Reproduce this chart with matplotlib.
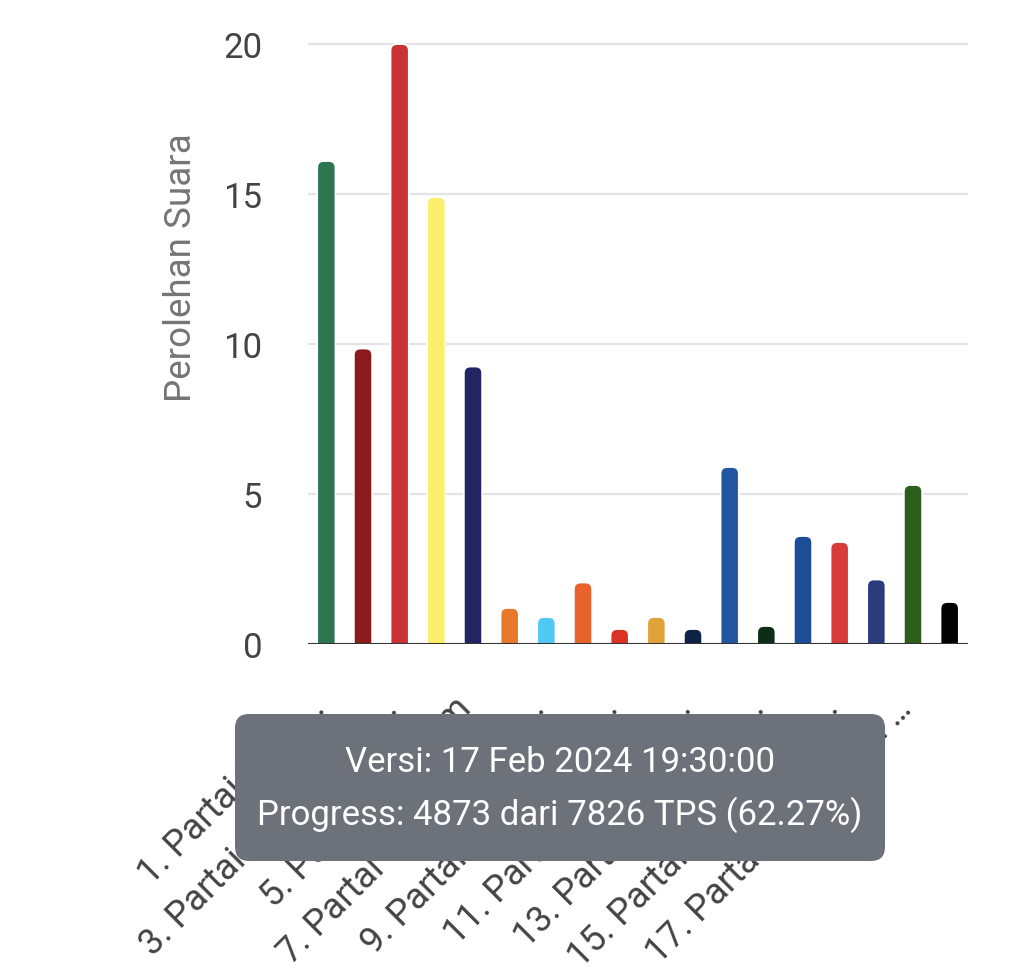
import matplotlib
matplotlib.use('Agg')
import matplotlib.pyplot as plt
from matplotlib.patches import FancyBboxPatch
from matplotlib.transforms import IdentityTransform

# ---- data ----
parties = [
    "1. Partai Kebangkitan Bangsa", "2. Partai Gerakan Indonesia Raya",
    "3. Partai Demokrasi Indonesia Perjuangan", "4. Partai Golongan Karya",
    "5. Partai NasDem", "6. Partai Buruh", "7. Partai Gelombang Rakyat Indonesia",
    "8. Partai Keadilan Sejahtera", "9. Partai Kebangkitan Nusantara",
    "10. Partai Hati Nurani Rakyat", "11. Partai Garda Republik Indonesia",
    "12. Partai Amanat Nasional", "13. Partai Bulan Bintang", "14. Partai Demokrat",
    "15. Partai Solidaritas Indonesia", "16. Partai Perindo",
    "17. Partai Persatuan Pembangunan", "24. Partai Ummat",
]
votes = [16.1, 9.85, 20.0, 14.9, 9.25, 1.2, 0.9, 2.05, 0.5, 0.9,
         0.5, 5.9, 0.6, 3.6, 3.4, 2.15, 5.3, 1.4]
colors = ["#2e7552", "#8b1a1a", "#c93333", "#fbef6c", "#232562", "#e8792b",
          "#52c8f5", "#e8632b", "#dc3223", "#e0a23a", "#0c2347", "#2356a0",
          "#0e2d18", "#1e4d98", "#d93a3a", "#2b3c7c", "#2a5e1a", "#000000"]
tick_positions = [0, 2, 4, 6, 8, 10, 12, 14, 16]
tick_labels = ["1. Partai Keba\u2026", "3. Partai Demokrasi \u2026", "5. Partai NasDem",
               "7. Partai Gelombang \u2026", "9. Partai Kebangkita\u2026",
               "11. Partai Garda Re\u2026", "13. Partai Bulan Bin\u2026",
               "15. Partai Solidaritas \u2026", "17. Partai Persatuan \u2026"]
y_ticks = [0, 5, 10, 15, 20]
y_title = "Perolehan Suara"
tooltip_lines = ["Versi: 17 Feb 2024 19:30:00",
                 "Progress: 4873 dari 7826 TPS (62.27%)"]

plt.rcParams['font.family'] = ['Roboto', 'DejaVu Sans']

W, H = 1024, 978
fig = plt.figure(figsize=(W / 100, H / 100), dpi=100)
fig.patch.set_facecolor('white')

ymax = 20.3
ax_left, ax_right, ax_base = 308, 968, 645
ax_top = ax_base - 30 * ymax
ax = fig.add_axes([ax_left / W, 1 - ax_base / H, (ax_right - ax_left) / W,
                   (ax_base - ax_top) / H])
ax.set_xlim(-0.5, len(votes) - 0.5)
ax.set_ylim(0, ymax)
for s in ax.spines.values():
    s.set_visible(False)

ax.set_yticks(y_ticks)
ax.yaxis.grid(True, color='#e2e2e8', lw=1.6)
ax.set_axisbelow(True)
ax.tick_params(axis='y', length=0, pad=33, labelsize=25, labelcolor='#444444')
ax.tick_params(axis='x', length=0, pad=47, labelsize=26, labelcolor='#444444')
ax.axhline(0, color='#333333', lw=2.2, zorder=6)

x = list(range(len(votes)))
bars = ax.bar(x, votes, width=0.5, color=colors)
for b in bars:
    b.set_visible(False)
    p = FancyBboxPatch((b.get_x(), -0.5), b.get_width(), b.get_height() + 0.5,
                       boxstyle="round,pad=0,rounding_size=0.18",
                       mutation_aspect=1.22, fc=b.get_facecolor(),
                       ec='white', lw=1.3, zorder=3)
    ax.add_patch(p)

ax.set_xticks(tick_positions, tick_labels, rotation=45, ha='right',
              va='baseline', rotation_mode='anchor')

fig.text(181 / W, 1 - 268 / H, y_title, rotation=90, ha='center', va='center',
         fontsize=26.5, color='#757575')

# tooltip overlay
tip = FancyBboxPatch((235, H - 862), 650, 147,
                     boxstyle="round,pad=0,rounding_size=14",
                     transform=IdentityTransform(), fc='#6c717a', ec='none',
                     zorder=10)
fig.add_artist(tip)
fig.text(560 / W, 1 - 763 / H, tooltip_lines[0], ha='center', va='center',
         color='white', fontsize=25, zorder=11)
fig.text(560 / W, 1 - 815 / H, tooltip_lines[1], ha='center', va='center',
         color='white', fontsize=25, zorder=11)

fig.savefig('out.png', dpi=100, facecolor='white')
